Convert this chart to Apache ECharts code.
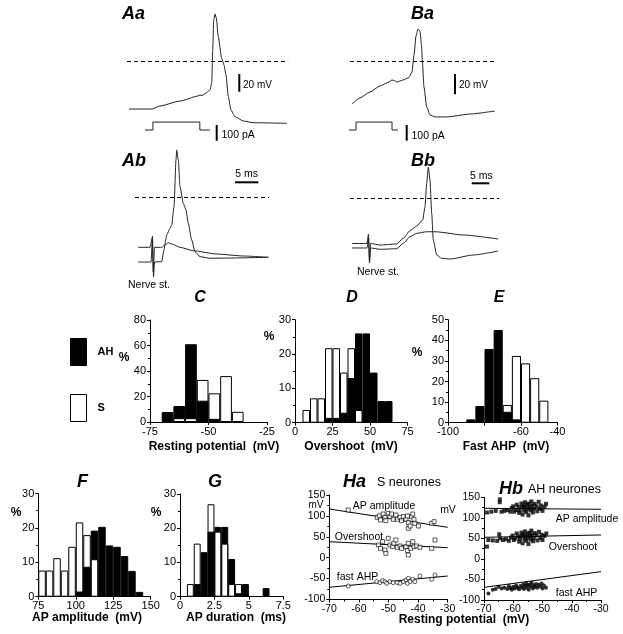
<!DOCTYPE html>
<html><head><meta charset="utf-8">
<script src="https://cdn.jsdelivr.net/npm/echarts@6/dist/echarts.min.js"></script>
<style>html,body{margin:0;padding:0;background:#fff}#c{width:623px;height:634px}</style>
</head><body><div id="c"></div>
<script>
// ================= DATA =================
// Intracellular traces: [time ms, membrane potential mV]
const aaTrace = [[0,-56.5],[5.0,-56.5],[6.74,-52.9],[11.09,-47.1],[15.0,-41.2],[15.43,-40.0],[15.87,-40.6],[16.74,-37.6],[17.39,-35.3],[17.61,-34.1],[17.98,-25.9],[18.2,12.9],[18.41,48.2],[18.7,55.3],[18.98,50.6],[19.41,28.6],[20.15,3.2],[20.65,-4.7],[21.09,-16.5],[21.59,-42.0],[22.17,-57.6],[23.04,-65.5],[24.85,-70.6],[26.96,-72.6],[34.35,-73.3]];
// Injected current: [time ms, pA]
const aaCurrent = [[3.48,0],[5.2,0],[5.2,53],[15.4,53],[15.4,0],[17.6,0]];
const baTrace = [[0,-45.3],[1.74,-38.9],[3.91,-32.6],[6.09,-26.3],[7.83,-22.6],[8.7,-20.0],[9.13,-20.5],[9.78,-22.1],[11.09,-20.0],[12.39,-17.4],[13.04,-11.6],[13.48,6.3],[13.91,26.3],[14.35,33.7],[14.78,31.6],[15.11,16.8],[15.28,1.1],[15.65,-27.4],[16.24,-48.4],[16.96,-56.8],[18.04,-58.9],[20.59,-58.9],[25.65,-55.8],[31.09,-52.6]];
const baCurrent = [[-0.87,0],[0.87,0],[0.87,53],[8.7,53],[8.7,0],[10.0,0]];
const abSpike = [[0,-76.5],[2.83,-76.5],[3.15,-45.9],[3.37,-94.1],[3.59,-76.5],[5.15,-76.1],[5.65,-62.4],[6.02,-50.6],[6.24,-44.7],[6.96,-36.8],[7.33,-32.9],[7.83,-11.4],[8.26,43.5],[8.41,55.3],[8.76,43.5],[9.13,12.1],[9.85,-7.4],[10.43,-15.3],[10.93,-30.9],[11.67,-50.6],[12.39,-64.4],[13.48,-70.2],[15.65,-72.1],[20.0,-71.8],[28.33,-70.9]];
const abSub = [[0,-59.2],[2.61,-59.2],[3.1,-48.2],[3.33,-88.2],[3.59,-59.2],[5.15,-59.2],[5.87,-56.5],[6.59,-53.8],[7.33,-55.3],[9.13,-59.2],[12.02,-63.2],[17.11,-67.1],[22.89,-69.4],[28.33,-70.9]];
const bbSpike = [[0,-47.9],[4.41,-47.9],[4.85,-37.9],[5.15,-65.3],[5.44,-47.9],[8.24,-49.5],[13.15,-48.4],[15.09,-42.4],[17.06,-34.4],[19.03,-29.5],[20.79,-23.2],[21.47,-9.2],[21.97,15.5],[22.44,32.3],[22.94,18.9],[23.44,-16.1],[23.91,-44.2],[24.91,-60.0],[26.38,-63.5],[28.82,-64.2],[35.68,-60.0],[43.03,-55.8]];
const bbSub = [[0,-52.6],[4.41,-52.6],[4.85,-42.1],[5.15,-68.4],[5.44,-52.6],[8.24,-54.0],[13.15,-53.4],[15.09,-47.7],[17.06,-40.7],[19.03,-37.2],[21.97,-35.5],[24.41,-35.5],[32.74,-38.9],[43.03,-43.2]];

// Histograms: bin lower edges and % of neurones
const cBins = [-70,-65,-60,-55,-50,-45,-40];
const cS    = [0,3,3,33,22.5,36,8];
const cAH   = [7.8,12.5,61,16.7,2.5,0,0];
const dBins = [5,10,15,20,25,30,35,40,45,50,55,60];
const dS    = [3.7,7.1,7.1,21.7,21.7,14.6,21.7,3.7,0,0,0,0];
const dAH   = [0,0,0,1.4,1.4,2.9,13,26,26,14.6,6.3,6.3];
const eBins = [-90,-85,-80,-75,-70,-65,-60,-55,-50];
const eS    = [0,0,0,0,8.6,32.4,28.8,21.6,10.7];
const eAH   = [1.6,8.1,35.8,45,5.3,1.6,0,0,0];
const fBins = [75,80,85,90,95,100,105,110,115,120,125,130,135,140];
const fS    = [7.6,7.6,11.2,7.6,14.5,21.6,17.9,10.9,0,0,0,0,0,0];
const fAH   = [0,0,0,0,0,1.5,8.7,19.2,20.3,14.9,14.5,11.8,7.5,1.4];
const gBins = [0.5,1.0,1.5,2.0,2.5,3.0,3.5,4.0,4.5,5.0,5.5,6.0];
const gS    = [3.7,15.5,0,27,19,15.5,3.7,3.7,0,0,0,0];
const gAH   = [0,3.7,13,19,20.4,20.4,11,1,3.7,0,0,2.5];

// Scatter: [resting potential mV, value mV]
const haAmp = [[-63.6,114.1],[-53.8,96.6],[-53.1,99.8],[-52.7,90.2],[-51.8,104.5],[-51.2,96.6],[-50.9,88.6],[-50.1,106.1],[-49.5,98.2],[-49.0,104.5],[-48.4,91.8],[-47.5,102.2],[-47.0,91.8],[-46.1,96.6],[-45.6,88.6],[-45.0,98.2],[-44.1,91.8],[-43.6,99.8],[-43.3,83.8],[-43.3,70.3],[-42.7,75.8],[-42.2,98.2],[-41.8,104.5],[-41.4,91.8],[-41.1,82.2],[-39.9,75.8],[-35.4,82.2],[-34.6,86.2]];
const haOver = [[-53.4,30.4],[-52.7,22.4],[-52.0,38.4],[-51.2,18.4],[-50.9,10.4],[-50.1,46.3],[-49.5,30.4],[-48.6,26.4],[-48.2,34.4],[-47.5,42.3],[-47.0,24.8],[-46.1,28.0],[-45.6,22.4],[-44.1,26.4],[-43.6,16.8],[-43.3,34.4],[-43.3,6.5],[-42.5,22.4],[-41.8,38.4],[-41.4,26.4],[-40.5,28.0],[-39.4,24.8],[-35.4,22.4],[-34.3,42.3]];
const haAhp = [[-63.6,-67.7],[-54.0,-57.3],[-52.9,-59.7],[-52.0,-54.9],[-51.2,-57.3],[-50.6,-61.3],[-49.5,-57.3],[-48.4,-59.7],[-47.0,-59.7],[-46.1,-61.3],[-45.0,-57.3],[-44.1,-53.3],[-43.6,-61.3],[-43.3,-49.4],[-42.7,-57.3],[-41.8,-51.8],[-41.1,-57.3],[-39.4,-43.8],[-35.4,-51.8],[-34.3,-41.4]];
const haAmpFit = [[-70,116.5],[-30,72.7]];
const haOverFit = [[-70,38.3],[-30,24]];
const haAhpFit = [[-70,-70.8],[-30,-43.8]];
const hbAmp = [[-69,113],[-67.5,115],[-66,117],[-64.6,145],[-64.6,138],[-64,115],[-63,117],[-62,119],[-61,115],[-60.5,124],[-60,128],[-59.7,115],[-59,119],[-58.8,132],[-58.2,126],[-58,112],[-57.8,118],[-57.2,135],[-57,126],[-56.8,108],[-56.5,130],[-56.3,118],[-56,138],[-55.8,126],[-55.5,114],[-55.3,132],[-55,122],[-54.8,106],[-54.6,135],[-54.3,126],[-54,118],[-53.8,140],[-53.5,130],[-53.3,113],[-53,122],[-52.7,134],[-52,128],[-51.8,116],[-51.3,139],[-50.8,122],[-50.5,130],[-50,117],[-49.3,127],[-48.8,134]];
const hbOver = [[-69,30],[-68.5,46],[-67,45],[-65.5,44],[-64.8,60],[-64.5,50],[-63.5,46],[-62.5,48],[-61.5,44],[-60.8,52],[-60.2,57],[-59.8,46],[-59.3,50],[-58.8,62],[-58.3,55],[-58,42],[-57.7,49],[-57.2,64],[-57,56],[-56.8,38],[-56.5,60],[-56.2,48],[-56,67],[-55.8,55],[-55.5,44],[-55.2,61],[-55,52],[-54.8,36],[-54.5,64],[-54.2,56],[-54,47],[-53.8,69],[-53.5,59],[-53.2,43],[-53,51],[-52.6,63],[-52,57],[-51.7,45],[-51.2,66],[-50.7,51],[-50.3,59],[-50,46],[-49.3,56],[-48.7,62]];
const hbAhp = [[-68.5,-84],[-67,-75],[-66,-73],[-65,-68],[-64,-72],[-63,-70],[-62,-73],[-61.5,-66],[-61,-71],[-60.5,-75],[-60,-68],[-59.5,-72],[-59,-65],[-58.5,-70],[-58,-74],[-57.5,-66],[-57,-70],[-56.6,-62],[-56.3,-73],[-56,-66],[-55.6,-60],[-55.3,-70],[-55,-64],[-54.7,-75],[-54.4,-62],[-54,-68],[-53.7,-58],[-53.3,-72],[-53,-64],[-52.6,-68],[-52.2,-61],[-51.8,-70],[-51.3,-63],[-50.8,-67],[-50.3,-60],[-50,-72],[-49.5,-65],[-48.8,-70]];
const hbAmpFit = [[-70,123.2],[-30,120.8]];
const hbOverFit = [[-70,52.6],[-30,58.3]];
const hbAhpFit = [[-70,-69.2],[-30,-31]];

// ================= BUILD =================
const FONT = '"Liberation Sans", Arial, Helvetica, sans-serif';
const grids = [], xAxes = [], yAxes = [], series = [];

function traceLayout(p) {
  return {left: p.x0 + p.tMin * p.pxMs, width: (p.tMax - p.tMin) * p.pxMs,
          top: p.y0 - p.vMax * p.pxMv, height: (p.vMax - p.vMin) * p.pxMv};
}
function addTrace(p, traces, current) {
  const gi = grids.length, L = traceLayout(p);
  grids.push(L);
  xAxes.push({gridIndex: gi, type: 'value', min: p.tMin, max: p.tMax, show: false});
  yAxes.push({gridIndex: gi, type: 'value', min: p.vMin, max: p.vMax, show: false});
  const yi = yAxes.length - 1;
  traces.forEach((tr, k) => {
    const s = {type: 'line', xAxisIndex: gi, yAxisIndex: yi, data: tr, symbol: 'none', smooth: 0.2,
      smoothMonotone: 'x', clip: false, silent: true, lineStyle: {color: '#222', width: 1}};
    if (k === 0) s.markLine = {silent: true, symbol: 'none', label: {show: false},
      lineStyle: {color: '#000', type: [4, 3], width: 1}, data: [{yAxis: 0}]};
    series.push(s);
  });
  if (current) {
    yAxes.push({gridIndex: gi, type: 'value', show: false,
      min: -(L.top + L.height - p.iy0) / p.pxPa, max: (p.iy0 - L.top) / p.pxPa});
    series.push({type: 'line', xAxisIndex: gi, yAxisIndex: yAxes.length - 1, data: current,
      symbol: 'none', clip: false, silent: true, lineStyle: {color: '#222', width: 1}});
  }
}

const axLine = {show: true, onZero: false, lineStyle: {color: '#000', width: 1}};
const axTick = {show: true, length: 3, lineStyle: {color: '#000', width: 1}};
const minor = {show: true, splitNumber: 2, length: 2, lineStyle: {color: '#000', width: 1}};
function lab(size, fmt) {
  const o = {color: '#000', fontSize: size, fontFamily: FONT, margin: 4, showMinLabel: true, showMaxLabel: true};
  if (fmt) o.formatter = fmt;
  return o;
}
function addAxes(g, xo, yo) {
  const gi = grids.length;
  grids.push(g);
  xAxes.push(Object.assign({gridIndex: gi, type: 'value', axisLine: axLine, axisTick: axTick,
    splitLine: {show: false}}, xo));
  yAxes.push(Object.assign({gridIndex: gi, type: 'value', axisLine: axLine, axisTick: axTick,
    minorTick: minor, splitLine: {show: false}}, yo));
  return {gi, yi: yAxes.length - 1};
}
function addHist(g, xo, yo, bins, binW, S, AH) {
  const {gi, yi} = addAxes(g, xo, yo);
  const barPx = binW / (xo.max - xo.min) * g.width;
  const pts = (arr, keep) => bins.map((b, i) => [b + binW / 2, arr[i], i]).filter(d => d[1] > 0 && keep(d[2])).map(d => [d[0], d[1]]);
  const base = {type: 'bar', xAxisIndex: gi, yAxisIndex: yi, barWidth: barPx, barGap: '-100%', silent: true};
  const white = {color: '#fff', borderColor: '#000', borderWidth: 1};
  const black = {color: '#000', borderColor: '#000', borderWidth: 1};
  series.push(Object.assign({}, base, {name: 'S', z: 2, itemStyle: white, data: pts(S, () => true)}));
  series.push(Object.assign({}, base, {name: 'AH', z: 3, itemStyle: black, data: pts(AH, () => true)}));
  series.push(Object.assign({}, base, {name: 'S (front)', z: 4, itemStyle: white, data: pts(S, i => S[i] < AH[i])}));
}
function addScatter(g, groups, fits, open) {
  const {gi, yi} = addAxes(g,
    {min: -70, max: -30, interval: 10, minorTick: minor, axisLabel: lab(10.5)},
    {min: -100, max: 150, interval: 50, axisLabel: lab(10.5)});
  groups.forEach((d, k) => series.push({type: 'scatter', xAxisIndex: gi, yAxisIndex: yi, data: d, silent: true,
    symbol: k === 2 ? 'circle' : 'rect', symbolSize: 4, z: 3,
    itemStyle: open ? {color: '#fff', borderColor: '#000', borderWidth: 0.8} : {color: '#000'}}));
  fits.forEach(d => series.push({type: 'line', xAxisIndex: gi, yAxisIndex: yi, data: d, symbol: 'none',
    silent: true, z: 2, lineStyle: {color: '#000', width: 1}}));
}

// Traces
addTrace({x0: 129, y0: 61, pxMs: 4.6, pxMv: 0.85, tMin: -0.43, tMax: 34.6, vMin: -90, vMax: 70, iy0: 130, pxPa: 0.15}, [aaTrace], aaCurrent);
addTrace({x0: 352, y0: 61, pxMs: 4.6, pxMv: 0.95, tMin: -0.43, tMax: 31.2, vMin: -80, vMax: 60, iy0: 130, pxPa: 0.15}, [baTrace], baCurrent);
addTrace({x0: 138, y0: 197, pxMs: 4.6, pxMv: 0.85, tMin: -0.65, tMax: 28.5, vMin: -110, vMax: 60}, [abSpike, abSub]);
addTrace({x0: 352, y0: 198, pxMs: 3.4, pxMv: 0.95, tMin: -0.6, tMax: 43.3, vMin: -80, vMax: 50}, [bbSpike, bbSub]);

// Histograms
addHist({left: 150, top: 320, width: 117, height: 102},
  {min: -75, max: -25, interval: 25, axisLabel: lab(11)},
  {min: 0, max: 80, interval: 20, axisLabel: lab(11)}, cBins, 5, cS, cAH);
addHist({left: 295, top: 319.7, width: 112.5, height: 103},
  {min: 0, max: 75, interval: 25, axisLabel: lab(11)},
  {min: 0, max: 30, interval: 10, axisLabel: lab(11)}, dBins, 5, dS, dAH);
addHist({left: 448, top: 319.7, width: 109.5, height: 103},
  {min: -100, max: -40, interval: 20, axisLabel: lab(11, v => v === -80 ? '' : String(v))},
  {min: 0, max: 50, interval: 10, axisLabel: lab(11)}, eBins, 5, eS, eAH);
addHist({left: 38.3, top: 493.5, width: 112.4, height: 103.2},
  {min: 75, max: 150, interval: 25, axisLabel: lab(11)},
  {min: 0, max: 30, interval: 10, axisLabel: lab(11)}, fBins, 5, fS, fAH);
addHist({left: 180, top: 494, width: 103.3, height: 102.7},
  {min: 0, max: 7.5, interval: 2.5, axisLabel: lab(11)},
  {min: 0, max: 30, interval: 10, axisLabel: lab(11)}, gBins, 0.5, gS, gAH);

// Scatter panels
addScatter({left: 329.3, top: 495, width: 118.4, height: 104.5}, [haAmp, haOver, haAhp], [haAmpFit, haOverFit, haAhpFit], true);
addScatter({left: 484, top: 497.3, width: 117, height: 102.7}, [hbAmp, hbOver, hbAhp], [hbAmpFit, hbOverFit, hbAhpFit], false);

// Text & scale bars
function txt(t, x, y, size, o = {}) {
  const a = o.align || 'left';
  return {type: 'text', x, y, silent: true, z: 100, style: {text: t, fill: '#000',
    font: (o.italic ? 'italic ' : '') + (o.bold ? 'bold ' : '') + size + 'px ' + FONT,
    textAlign: a, align: a, textVerticalAlign: 'middle', verticalAlign: 'middle'}};
}
function bar(x1, y1, x2, y2) {
  return {type: 'line', silent: true, z: 100, shape: {x1, y1, x2, y2}, style: {stroke: '#000', lineWidth: 2}};
}
const BI = {bold: true, italic: true};
const graphic = [
  txt('Aa', 122, 14, 18, BI), txt('Ba', 411, 14, 18, BI), txt('Ab', 122, 161, 18, BI), txt('Bb', 411, 161, 18, BI),
  txt('C', 200, 298, 16, Object.assign({align: 'center'}, BI)), txt('D', 352, 298, 16, Object.assign({align: 'center'}, BI)),
  txt('E', 499, 298, 16, Object.assign({align: 'center'}, BI)), txt('F', 82.5, 482, 18, Object.assign({align: 'center'}, BI)),
  txt('G', 215, 482, 18, Object.assign({align: 'center'}, BI)),
  txt('Ha', 343, 482, 18, BI), txt('S neurones', 377, 483, 12.5),
  txt('Hb', 499, 489, 18, BI), txt('AH neurones', 528, 490, 12.5),
  bar(239.3, 74, 239.3, 91.7), txt('20 mV', 243, 85, 10), bar(216.7, 125, 216.7, 140.7), txt('100 pA', 221.5, 135, 10.5),
  bar(455, 74, 455, 94.3), txt('20 mV', 459, 85, 10), bar(406.7, 125, 406.7, 140.7), txt('100 pA', 411.5, 136, 10.5),
  bar(235, 182.3, 258.3, 182.3), txt('5 ms', 246.7, 174.5, 10.5, {align: 'center'}),
  bar(471.7, 183.3, 489.3, 183.3), txt('5 ms', 481.3, 176, 10.5, {align: 'center'}),
  txt('Nerve st.', 128, 285, 10.5), txt('Nerve st.', 357, 272, 10.5),
  txt('Resting potential  (mV)', 214, 447, 12, {bold: true, align: 'center'}),
  txt('Overshoot  (mV)', 351, 447, 12, {bold: true, align: 'center'}),
  txt('Fast AHP  (mV)', 506, 447, 12, {bold: true, align: 'center'}),
  txt('AP amplitude  (mV)', 87, 618, 12, {bold: true, align: 'center'}),
  txt('AP duration  (ms)', 236, 618, 12, {bold: true, align: 'center'}),
  txt('Resting potential  (mV)', 464, 620, 12, {bold: true, align: 'center'}),
  txt('%', 124, 358, 12, {bold: true, align: 'center'}), txt('%', 269, 337, 12, {bold: true, align: 'center'}),
  txt('%', 417, 353, 12, {bold: true, align: 'center'}), txt('%', 16, 513, 12, {bold: true, align: 'center'}),
  txt('%', 156, 513, 12, {bold: true, align: 'center'}),
  txt('mV', 316, 505, 10, {align: 'center'}), txt('mV', 448, 510, 10.5, {align: 'center'}),
  txt('AP amplitude', 384, 506, 10.5, {align: 'center'}), txt('Overshoot', 359, 537, 10.5, {align: 'center'}),
  txt('fast AHP', 357.5, 577, 10.5, {align: 'center'}),
  txt('AP amplitude', 587, 519, 10.5, {align: 'center'}), txt('Overshoot', 573, 547, 10.5, {align: 'center'}),
  txt('fast AHP', 576.5, 593, 10.5, {align: 'center'})
];

const chart = echarts.init(document.getElementById('c'), null, {renderer: 'canvas'});
chart.setOption({
  animation: false,
  backgroundColor: '#fff',
  textStyle: {fontFamily: FONT},
  legend: {orient: 'vertical', left: 65, top: 333, itemWidth: 16, itemHeight: 27, itemGap: 28,
    selectedMode: false, icon: 'rect',
    textStyle: {fontSize: 11, fontWeight: 'bold', color: '#000', fontFamily: FONT, padding: [0, 0, 0, 6]},
    data: [{name: 'AH', itemStyle: {color: '#000', borderColor: '#000', borderWidth: 1}},
           {name: 'S', itemStyle: {color: '#fff', borderColor: '#000', borderWidth: 1}}]},
  grid: grids, xAxis: xAxes, yAxis: yAxes, series, graphic
});
</script></body></html>
